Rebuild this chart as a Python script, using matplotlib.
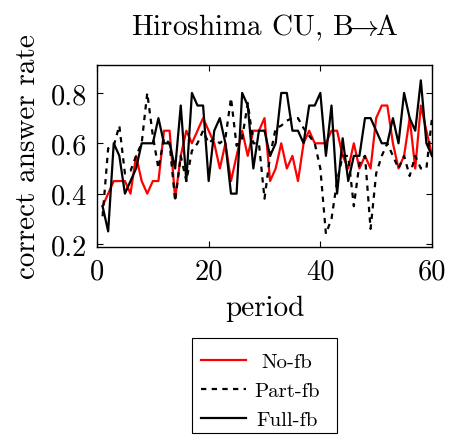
import matplotlib
matplotlib.use("Agg")
import matplotlib.pyplot as plt
from matplotlib.lines import Line2D
from matplotlib.patches import Rectangle

plt.rcParams['font.family'] = ['cmr10', 'DejaVu Serif']
plt.rcParams['mathtext.fontset'] = 'cm'
plt.rcParams['axes.formatter.use_mathtext'] = True

periods = list(range(1, 61))

no_fb = [0.35, 0.40, 0.45, 0.45, 0.45, 0.40, 0.55, 0.45, 0.40, 0.45,
         0.45, 0.65, 0.65, 0.38, 0.55, 0.65, 0.60, 0.65, 0.70, 0.65,
         0.60, 0.50, 0.60, 0.45, 0.55, 0.65, 0.55, 0.65, 0.65, 0.70,
         0.45, 0.50, 0.60, 0.50, 0.55, 0.45, 0.60, 0.65, 0.60, 0.60,
         0.60, 0.65, 0.65, 0.55, 0.50, 0.60, 0.50, 0.55, 0.50, 0.70,
         0.75, 0.75, 0.60, 0.50, 0.55, 0.70, 0.50, 0.75, 0.65, 0.55]

part_fb = [0.31, 0.58, 0.59, 0.67, 0.48, 0.49, 0.55, 0.60, 0.80, 0.63,
           0.50, 0.62, 0.60, 0.37, 0.55, 0.45, 0.57, 0.60, 0.65, 0.60,
           0.62, 0.60, 0.62, 0.78, 0.59, 0.62, 0.76, 0.60, 0.60, 0.38,
           0.55, 0.66, 0.67, 0.69, 0.70, 0.70, 0.66, 0.63, 0.60, 0.50,
           0.24, 0.30, 0.45, 0.55, 0.55, 0.35, 0.52, 0.55, 0.26, 0.48,
           0.55, 0.60, 0.55, 0.50, 0.55, 0.47, 0.55, 0.50, 0.50, 0.70]

full_fb = [0.35, 0.25, 0.60, 0.55, 0.40, 0.45, 0.50, 0.60, 0.60, 0.60,
           0.70, 0.60, 0.60, 0.50, 0.75, 0.45, 0.80, 0.75, 0.75, 0.45,
           0.65, 0.70, 0.60, 0.40, 0.40, 0.80, 0.75, 0.50, 0.65, 0.65,
           0.55, 0.60, 0.80, 0.80, 0.65, 0.65, 0.60, 0.75, 0.75, 0.80,
           0.55, 0.75, 0.40, 0.62, 0.45, 0.55, 0.55, 0.70, 0.70, 0.65,
           0.60, 0.60, 0.70, 0.60, 0.80, 0.70, 0.65, 0.85, 0.60, 0.55]

series_names = ["No-fb", "Part-fb", "Full-fb"]
x_ticks = [0, 20, 40, 60]
y_ticks = [0.2, 0.4, 0.6, 0.8]

W, H = 449, 439
fig = plt.figure(figsize=(W/100, H/100), dpi=100)
ax = fig.add_axes([97/W, 1-248/H, (432-97)/W, (248-66)/H])

lw = 1.6
styles = [dict(color='red', lw=lw),
          dict(color='black', lw=lw, dashes=(2.4, 2.4)),
          dict(color='black', lw=lw)]
for ys, name, st in zip([no_fb, part_fb, full_fb], series_names, styles):
    ax.plot(periods, ys, label=name, **st)

ax.set_xlim(0, 60)
ax.set_ylim(0.188, 0.911)
ax.set_xticks(x_ticks)
ax.set_yticks(y_ticks)
ax.set_xticklabels([str(v) for v in x_ticks])
ax.set_yticklabels(["%.1f" % v for v in y_ticks])
ax.tick_params(direction='in', length=4, width=0.8, top=True, right=True,
               labelsize=20.5)
ax.tick_params(axis='x', pad=8)
ax.tick_params(axis='y', pad=7)
for s in ax.spines.values():
    s.set_linewidth(1.0)

ax.set_title("Hiroshima CU, B$\\!\\!\\rightarrow\\!\\!$A", fontsize=21, pad=22)
ax.set_xlabel("period", fontsize=21, labelpad=7)
ax.set_ylabel("correct answer rate", fontsize=21, labelpad=7)

# legend drawn as a pgfplots-style box with centred label cells
def fx(px):
    return px / W

def fy(py):
    return 1 - py / H

box_l, box_r, box_t, box_b = 192, 337, 339, 434
fig.add_artist(Rectangle((fx(box_l), fy(box_b)), fx(box_r) - fx(box_l),
                         fy(box_t) - fy(box_b), transform=fig.transFigure,
                         facecolor='white', edgecolor='black', lw=0.8))
row_y = [361, 390, 419]
line_x0, line_x1 = 201, 246
text_cx = 287
for name, st, ry in zip(series_names, styles, row_y):
    fig.add_artist(Line2D([fx(line_x0), fx(line_x1)], [fy(ry), fy(ry)],
                          transform=fig.transFigure, **st))
    fig.text(fx(text_cx), fy(ry), name, ha='center', va='center_baseline',
             fontsize=15)

fig.savefig("out.png", dpi=100)
